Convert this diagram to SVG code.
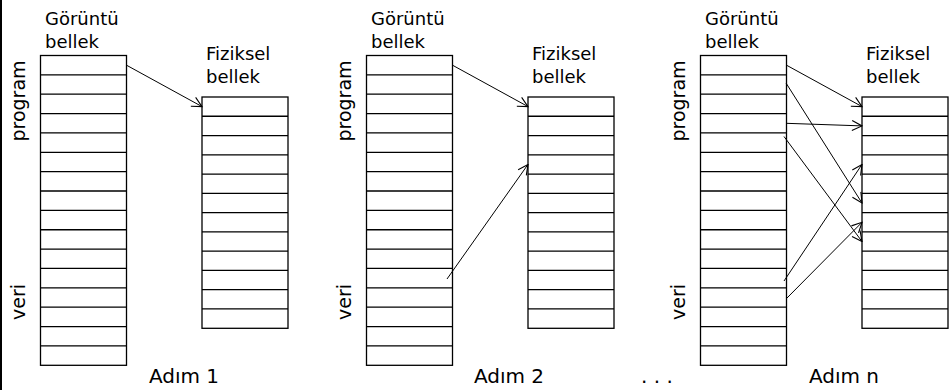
<svg xmlns="http://www.w3.org/2000/svg" width="951" height="390" viewBox="0 0 951 390">
<defs>
<style>
.mem{fill:#fff;stroke:#000;stroke-width:1.3}
.rows{fill:none;stroke:#000;stroke-width:1.3}
.lbl{font-family:"DejaVu Sans",Verdana,sans-serif;font-size:18px;fill:#000}
.side{font-family:"DejaVu Sans",Verdana,sans-serif;font-size:19px;fill:#000;text-anchor:middle}
.step{font-family:"DejaVu Sans",sans-serif;font-size:20px;fill:#000;text-anchor:middle}
.arr{fill:none;stroke:#000;stroke-width:1;marker-end:url(#ah)}
</style>
<marker id="ah" viewBox="0 0 12 12" refX="11" refY="6" markerWidth="12" markerHeight="12" markerUnits="userSpaceOnUse" orient="auto">
<path d="M1,1 L11,6 L1,11" fill="none" stroke="#000" stroke-width="1.1"/>
</marker>
<path id="vrows" class="rows" d="M0,19.36h86M0,38.72h86M0,58.08h86M0,77.44h86M0,96.8h86M0,116.16h86M0,135.52h86M0,154.88h86M0,174.24h86M0,193.6h86M0,212.96h86M0,232.32h86M0,251.68h86M0,271.04h86M0,290.4h86"/>
<path id="prows" class="rows" d="M0,19.27h86M0,38.54h86M0,57.81h86M0,77.08h86M0,96.35h86M0,115.62h86M0,134.89h86M0,154.16h86M0,173.43h86M0,192.7h86M0,211.97h86"/>
</defs>
<rect width="951" height="390" fill="#fff"/>
<line x1="1" y1="0" x2="1" y2="390" stroke="#000" stroke-width="2"/>

<g id="panel1">
<g id="virt1">
<rect class="mem" x="40.5" y="55.5" width="86" height="309.8"/>
<use href="#vrows" x="40.5" y="55.5"/>
<text class="lbl" x="45" y="25">Görüntü</text>
<text class="lbl" x="45" y="48">bellek</text>
<text class="side" transform="translate(25,101) rotate(-90)">program</text>
<text class="side" transform="translate(25,302) rotate(-90)">veri</text>
</g>
<g id="phys1">
<rect class="mem" x="202" y="97" width="86" height="231.3"/>
<use href="#prows" x="202" y="97"/>
<text class="lbl" x="206" y="60">Fiziksel</text>
<text class="lbl" x="206" y="83">bellek</text>
</g>
<text id="step1" class="step" x="184" y="383">Adım 1</text>
</g>

<g id="panel2">
<g id="virt2">
<rect class="mem" x="366.5" y="55.5" width="86" height="309.8"/>
<use href="#vrows" x="366.5" y="55.5"/>
<text class="lbl" x="371" y="25">Görüntü</text>
<text class="lbl" x="371" y="48">bellek</text>
<text class="side" transform="translate(351,101) rotate(-90)">program</text>
<text class="side" transform="translate(351,302) rotate(-90)">veri</text>
</g>
<g id="phys2">
<rect class="mem" x="528" y="97" width="86" height="231.3"/>
<use href="#prows" x="528" y="97"/>
<text class="lbl" x="532" y="60">Fiziksel</text>
<text class="lbl" x="532" y="83">bellek</text>
</g>
<text id="step2" class="step" x="509" y="383">Adım 2</text>
</g>

<text id="dots" class="step" x="657" y="383">. . .</text>

<g id="panel3">
<g id="virt3">
<rect class="mem" x="700.5" y="55.5" width="86" height="309.8"/>
<use href="#vrows" x="700.5" y="55.5"/>
<text class="lbl" x="705" y="25">Görüntü</text>
<text class="lbl" x="705" y="48">bellek</text>
<text class="side" transform="translate(685,101) rotate(-90)">program</text>
<text class="side" transform="translate(685,302) rotate(-90)">veri</text>
</g>
<g id="phys3">
<rect class="mem" x="862" y="97" width="86" height="231.3"/>
<use href="#prows" x="862" y="97"/>
<text class="lbl" x="866" y="60">Fiziksel</text>
<text class="lbl" x="866" y="83">bellek</text>
</g>
<text id="stepn" class="step" x="844" y="383">Adım n</text>
</g>

<g id="connectors">
<line class="arr" x1="126.5" y1="65.2" x2="202" y2="106.6"/>
<line class="arr" x1="452.5" y1="65.2" x2="528" y2="106.6"/>
<line class="arr" x1="447" y1="279" x2="528" y2="164.4"/>
<line class="arr" x1="786.5" y1="65.2" x2="862" y2="106.6"/>
<line class="arr" x1="786" y1="83" x2="862" y2="203"/>
<line class="arr" x1="786" y1="123.3" x2="862" y2="125.9"/>
<line class="arr" x1="784" y1="136.5" x2="862" y2="241.5"/>
<line class="arr" x1="784" y1="281" x2="862" y2="164.4"/>
<line class="arr" x1="786" y1="299" x2="862" y2="222.3"/>
</g>
</svg>
